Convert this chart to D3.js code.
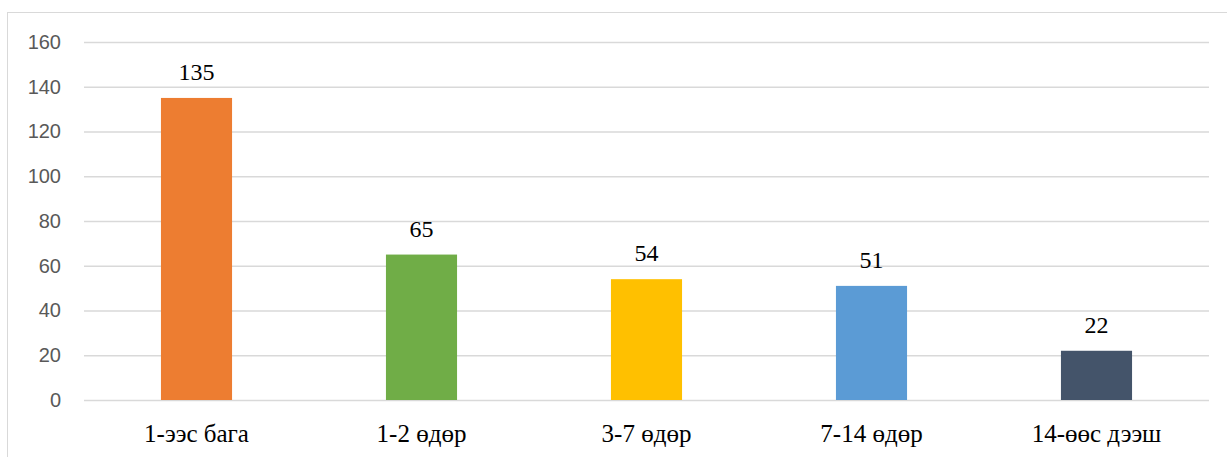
<!DOCTYPE html>
<html><head><meta charset="utf-8">
<script src="https://cdn.jsdelivr.net/npm/d3@7"></script>
<style>body{margin:0;background:#fff}svg{display:block}
.serif{font-family:"Liberation Serif","Times New Roman",Times,serif;font-size:24px;fill:#000}
.cat{font-family:"Liberation Serif","Times New Roman",Times,serif;font-size:25px;fill:#000}
.sans{font-family:"Liberation Sans",Arial,sans-serif;font-size:20px;fill:#595959}
</style>
</head><body>
<svg id="c" width="1227" height="457"></svg>
<script>
const categories = ["1-ээс бага", "1-2 өдөр", "3-7 өдөр", "7-14 өдөр", "14-өөс дээш"];
const values = [135, 65, 54, 51, 22];
const colors = ["#ED7D31", "#70AD47", "#FFC000", "#5B9BD5", "#44546A"];
const yTicks = [0, 20, 40, 60, 80, 100, 120, 140, 160];

const svg = d3.select("#c");
svg.append("rect").attr("x", 7.5).attr("y", 12.5).attr("width", 1240).attr("height", 460)
  .attr("fill", "none").attr("stroke", "#d9d9d9").attr("stroke-width", 1);

const x = d3.scaleBand().domain(categories).range([84, 1209]).paddingInner(0.684).paddingOuter(0.342);
const y = d3.scaleLinear().domain([0, 160]).range([400, 42]);

const gy = svg.append("g").attr("transform", "translate(84,0)")
  .call(d3.axisLeft(y).tickValues(yTicks).tickSize(-1125).tickPadding(23));
gy.attr("font-family", null).attr("font-size", null);
gy.select(".domain").remove();
gy.selectAll(".tick line").attr("stroke", "#d9d9d9").attr("stroke-width", 1.5);
gy.selectAll(".tick text").attr("fill", null).attr("class", "sans");

svg.selectAll(".bar").data(values).enter().append("rect")
  .attr("x", (d, i) => x(categories[i])).attr("y", d => y(d))
  .attr("width", x.bandwidth()).attr("height", d => y(0) - y(d))
  .attr("fill", (d, i) => colors[i]);

svg.selectAll(".lbl").data(values).enter().append("text")
  .attr("class", "serif")
  .attr("x", (d, i) => x(categories[i]) + x.bandwidth() / 2).attr("y", d => y(d) - 18)
  .attr("text-anchor", "middle").text(d => d);

const gx = svg.append("g").attr("transform", "translate(0,400)")
  .call(d3.axisBottom(x).tickSize(0).tickPadding(0));
gx.attr("font-family", null).attr("font-size", null);
gx.select(".domain").remove();
gx.selectAll(".tick text").attr("dy", null).attr("y", 42).attr("fill", null).attr("class", "cat");
</script>
</body></html>
